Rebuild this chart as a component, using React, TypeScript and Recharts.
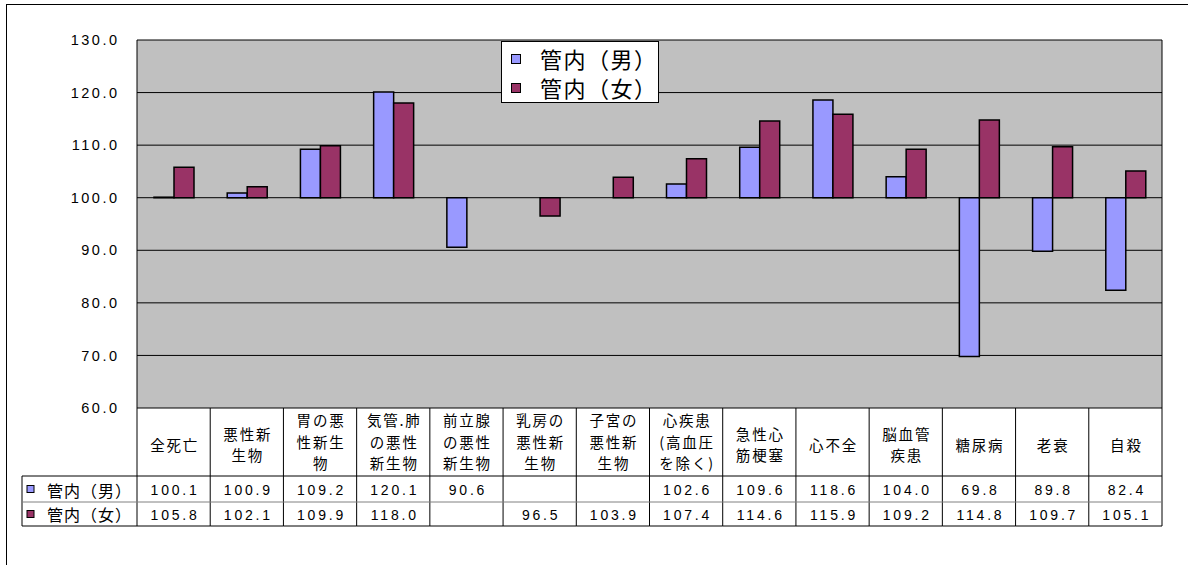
import React from "react";
import {
  BarChart,
  Bar,
  XAxis,
  YAxis,
  CartesianGrid,
  Legend,
} from "recharts";

// 標準化死亡比 (SMR) 管内 男女別
const categories = [
  "全死亡",
  "悪性新生物",
  "胃の悪性新生物",
  "気管.肺の悪性新生物",
  "前立腺の悪性新生物",
  "乳房の悪性新生物",
  "子宮の悪性新生物",
  "心疾患(高血圧を除く)",
  "急性心筋梗塞",
  "心不全",
  "脳血管疾患",
  "糖尿病",
  "老衰",
  "自殺",
];

// how the labels wrap inside the table cells
const categoryLines = [
  ["全死亡"],
  ["悪性新", "生物"],
  ["胃の悪", "性新生", "物"],
  ["気管.肺", "の悪性", "新生物"],
  ["前立腺", "の悪性", "新生物"],
  ["乳房の", "悪性新", "生物"],
  ["子宮の", "悪性新", "生物"],
  ["心疾患", "(高血圧", "を除く)"],
  ["急性心", "筋梗塞"],
  ["心不全"],
  ["脳血管", "疾患"],
  ["糖尿病"],
  ["老衰"],
  ["自殺"],
];

const maleValues = [100.1, 100.9, 109.2, 120.1, 90.6, null, null, 102.6, 109.6, 118.6, 104.0, 69.8, 89.8, 82.4];
const femaleValues = [105.8, 102.1, 109.9, 118.0, null, 96.5, 103.9, 107.4, 114.6, 115.9, 109.2, 114.8, 109.7, 105.1];

const seriesNames = ["管内（男）", "管内（女）"];
const yTicks = [60, 70, 80, 90, 100, 110, 120, 130];
const baseLine = 100;

const MALE = "#9999FF";
const FEMALE = "#993366";

const W = 1188;
const H = 565;
const margin = { top: 40, right: 26, bottom: 39, left: 77 };
const Y_AXIS_W = 60;
const X_AXIS_H = 118;
const plotWidth = W - margin.left - margin.right - Y_AXIS_W;
const band = plotWidth / categories.length;

const numFont = "'Liberation Sans', Arial, 'Noto Sans CJK JP', sans-serif";
const jpFont = "'Noto Sans CJK JP', sans-serif";

const toRange = (v: number | null) =>
  v == null ? null : [Math.min(baseLine, v), Math.max(baseLine, v)];

const data = categories.map((name, i) => ({
  name,
  male: toRange(maleValues[i]),
  female: toRange(femaleValues[i]),
}));

function TableTick(props: any) {
  const { x, y, index } = props;
  const left = x - band / 2;
  const right = x + band / 2;
  const catBottom = y + 68;
  const maleBottom = y + 94;
  const femaleBottom = y + 118;
  const lines = categoryLines[index] || [];
  const lineH = 21.2;
  const center = lines.length > 2 ? y + 33 : y + 36;
  const firstY = center - ((lines.length - 1) * lineH) / 2;
  const m = maleValues[index];
  const f = femaleValues[index];
  const legendLeft = left - 115;

  return (
    <g>
      {index === 0 && (
        <g>
          <line x1={left} x2={left} y1={y} y2={femaleBottom} stroke="#000" />
          <line x1={legendLeft} x2={legendLeft} y1={catBottom} y2={femaleBottom} stroke="#000" />
          <line x1={legendLeft} x2={left} y1={catBottom} y2={catBottom} stroke="#000" />
          <line x1={legendLeft} x2={left} y1={maleBottom} y2={maleBottom} stroke="#808080" />
          <line x1={legendLeft} x2={left} y1={femaleBottom} y2={femaleBottom} stroke="#000" />
          <rect x={legendLeft + 5} y={y + 77.5} width={7} height={7} fill={MALE} stroke="#000" />
          <rect x={legendLeft + 5} y={y + 102.5} width={7} height={7} fill={FEMALE} stroke="#000" />
          <text x={legendLeft + 25} y={y + 82} dominantBaseline="central" fontSize={16} letterSpacing={1} fontFamily={jpFont} fill="#000">
            {seriesNames[0]}
          </text>
          <text x={legendLeft + 25} y={y + 106} dominantBaseline="central" fontSize={16} letterSpacing={1} fontFamily={jpFont} fill="#000">
            {seriesNames[1]}
          </text>
        </g>
      )}
      <line x1={right} x2={right} y1={y} y2={femaleBottom} stroke="#000" />
      <line x1={left} x2={right} y1={catBottom} y2={catBottom} stroke="#000" />
      <line x1={left} x2={right} y1={maleBottom} y2={maleBottom} stroke="#808080" />
      <line x1={left} x2={right} y1={femaleBottom} y2={femaleBottom} stroke="#000" />
      {lines.map((t, i) => (
        <text
          key={i}
          x={x + 1}
          y={firstY + i * lineH}
          textAnchor="middle"
          dominantBaseline="central"
          fontSize={14.5}
          letterSpacing={1.8}
          fontFamily={jpFont}
          fill="#000"
        >
          {t}
        </text>
      ))}
      {m != null && (
        <text x={x + 1.5} y={y + 82} textAnchor="middle" dominantBaseline="central" fontSize={14} letterSpacing={2.8} fontFamily={numFont} fill="#000">
          {m.toFixed(1)}
        </text>
      )}
      {f != null && (
        <text x={x + 1.5} y={y + 106.5} textAnchor="middle" dominantBaseline="central" fontSize={14} letterSpacing={2.8} fontFamily={numFont} fill="#000">
          {f.toFixed(1)}
        </text>
      )}
    </g>
  );
}

function LegendBox() {
  const colors = [MALE, FEMALE];
  return (
    <div
      style={{
        background: "#fff",
        border: "1px solid #000",
        width: 158,
        height: 62,
        boxSizing: "border-box",
        paddingTop: 2,
      }}
    >
      {seriesNames.map((n, i) => (
        <div key={n} style={{ display: "flex", alignItems: "center", height: 29, paddingLeft: 9 }}>
          <span
            style={{
              display: "inline-block",
              width: 8,
              height: 8,
              background: colors[i],
              border: "1px solid #000",
              marginRight: 19,
            }}
          />
          <span style={{ fontFamily: jpFont, fontSize: 22, letterSpacing: 1.5, lineHeight: "29px", color: "#000" }}>
            {n}
          </span>
        </div>
      ))}
    </div>
  );
}

export default function App() {
  return (
    <div style={{ position: "fixed", left: 0, top: 0, width: W, height: H, background: "#fff", overflow: "hidden" }}>
      <div
        style={{
          position: "absolute",
          left: 6,
          top: 4,
          width: W,
          height: H,
          borderLeft: "1.5px solid #000",
          borderTop: "1.5px solid #000",
        }}
      />
      <div style={{ position: "absolute", left: 0, top: 0 }}>
        <BarChart width={W} height={H} data={data} margin={margin} barSize={20} barGap={0}>
          <CartesianGrid
            fill="#C0C0C0"
            fillOpacity={1}
            stroke="#000"
            strokeOpacity={1}
            horizontal={true}
            vertical={true}
            verticalCoordinatesGenerator={({ offset }: any) => [offset.left, offset.left + offset.width]}
          />
          <XAxis
            dataKey="name"
            interval={0}
            height={X_AXIS_H}
            axisLine={false}
            tickLine={false}
            tickSize={0}
            tickMargin={0}
            tick={<TableTick />}
          />
          <YAxis
            width={Y_AXIS_W}
            domain={[60, 130]}
            ticks={yTicks}
            axisLine={false}
            tickLine={false}
            tickSize={0}
            tickMargin={17.5}
            tickFormatter={(v: number) => v.toFixed(1)}
            tick={{ fontSize: 14.5, fill: "#000", fontFamily: numFont, letterSpacing: 2.5 }}
          />
          <Legend
            layout="vertical"
            align="center"
            verticalAlign="middle"
            content={<LegendBox />}
            wrapperStyle={{ left: 501, top: 41, width: 158, height: 62 }}
          />
          <Bar dataKey="male" name={seriesNames[0]} fill={MALE} stroke="#000" strokeWidth={1.5} isAnimationActive={false} />
          <Bar dataKey="female" name={seriesNames[1]} fill={FEMALE} stroke="#000" strokeWidth={1.5} isAnimationActive={false} />
        </BarChart>
      </div>
    </div>
  );
}
